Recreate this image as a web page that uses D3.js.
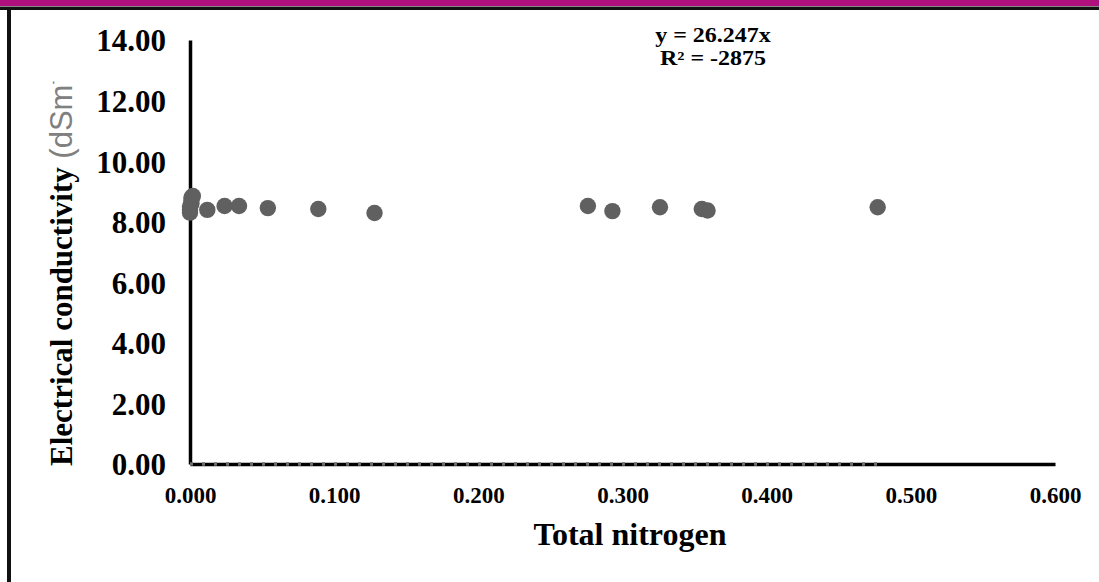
<!DOCTYPE html>
<html>
<head>
<meta charset="utf-8">
<script src="https://cdn.jsdelivr.net/npm/d3@7/dist/d3.min.js"></script>
<style>
  html, body { margin: 0; padding: 0; background: #fff; }
  svg { display: block; }
</style>
</head>
<body>
<svg id="chart" width="1099" height="582"></svg>
<script>
// ---- Data ----
const totalNitrogen = [0.000, 0.000, 0.000, 0.001, 0.001, 0.001, 0.002,
                       0.012, 0.024, 0.034, 0.054, 0.089, 0.128,
                       0.276, 0.293, 0.326, 0.355, 0.359, 0.477];
const conductivity  = [8.30, 8.40, 8.50, 8.60, 8.70, 8.80, 8.85,
                       8.39, 8.52, 8.52, 8.45, 8.42, 8.29,
                       8.52, 8.35, 8.48, 8.42, 8.37, 8.48];
const xTicks = [0, 0.1, 0.2, 0.3, 0.4, 0.5, 0.6];
const yTicks = [0, 2, 4, 6, 8, 10, 12, 14];
const equationLines = ["y = 26.247x", "R\u00B2 = -2875"];
const xTitle = "Total nitrogen";
const yTitleMain = "Electrical conductivity";
const yTitleUnit = " (dSm";
const yTitleSup = "-1";
const yTitleEnd = ")";
const trendEndX = 0.478;

const svg = d3.select("#chart");
const serif = "'Liberation Serif', 'Times New Roman', serif";
const sans = "'Liberation Sans', Arial, sans-serif";

// ---- Frame ----
svg.append("rect").attr("x", 0).attr("y", 0).attr("width", 1099).attr("height", 6).attr("fill", "#b0107e");
svg.append("rect").attr("x", 0).attr("y", 6).attr("width", 1099).attr("height", 1).attr("fill", "#888");
svg.append("rect").attr("x", 0).attr("y", 7).attr("width", 1099).attr("height", 3).attr("fill", "#111");
svg.append("rect").attr("x", 7).attr("y", 9).attr("width", 4).attr("height", 573).attr("fill", "#111");

// ---- Scales ----
const x = d3.scaleLinear().domain([0, 0.6]).range([190, 1055]);
const y = d3.scaleLinear().domain([0, 14]).range([464, 40]);

// ---- Axes ----
const xAxis = d3.axisBottom(x).tickValues(xTicks).tickFormat(d3.format(".3f")).tickSize(0).tickPadding(0);
const gx = svg.append("g").attr("transform", `translate(0,${y(0)})`).call(xAxis);
gx.select(".domain").attr("stroke", "#000").attr("stroke-width", 3.5);
gx.selectAll("text")
  .attr("dy", null).attr("y", 39)
  .attr("font-family", serif).attr("font-weight", "bold").attr("font-size", 23).attr("fill", "#000");

const yAxis = d3.axisLeft(y).tickValues(yTicks).tickFormat(d3.format(".2f")).tickSize(0).tickPadding(0);
const gy = svg.append("g").attr("transform", `translate(${x(0)},0)`).call(yAxis);
gy.select(".domain").attr("stroke", "#000").attr("stroke-width", 3.5);
gy.selectAll("text")
  .attr("x", -24).attr("dy", "0.35em")
  .attr("font-family", serif).attr("font-weight", "bold").attr("font-size", 31).attr("fill", "#000");

// ---- Trend line (dashed, grey, lying on the x axis) ----
svg.append("line")
  .attr("x1", x(0)).attr("x2", x(trendEndX))
  .attr("y1", y(0)).attr("y2", y(0))
  .attr("stroke", "#6e6e6e").attr("stroke-width", 3.5)
  .attr("stroke-dasharray", "3 9");

// ---- Points ----
const pts = totalNitrogen.map((d, i) => ({ x: d, y: conductivity[i] }));
svg.append("g").selectAll("circle").data(pts).join("circle")
  .attr("cx", d => x(d.x)).attr("cy", d => y(d.y)).attr("r", 8.2)
  .attr("fill", "#606060");

// ---- Equation ----
svg.append("g").selectAll("text").data(equationLines).join("text")
  .attr("transform", (d, i) => `translate(713,${42 + i * 23}) scale(1.2,1)`)
  .attr("text-anchor", "middle")
  .attr("font-family", serif).attr("font-weight", "bold").attr("font-size", 20)
  .attr("fill", "#000").text(d => d);

// ---- Axis titles ----
svg.append("text")
  .attr("x", 630).attr("y", 545).attr("text-anchor", "middle")
  .attr("font-family", serif).attr("font-weight", "bold").attr("font-size", 32)
  .attr("fill", "#000").text(xTitle);

const baseY = 466;
const clipRect = svg.append("clipPath").attr("id", "ytclip")
  .append("rect").attr("x", 0).attr("y", 40).attr("width", 180).attr("height", 542);
const yt = svg.append("g").attr("clip-path", "url(#ytclip)")
  .append("text")
  .attr("transform", `translate(72,${baseY}) rotate(-90)`)
  .attr("text-anchor", "start");
yt.append("tspan")
  .attr("font-family", serif).attr("font-weight", "bold").attr("font-size", 31).attr("fill", "#000")
  .text(yTitleMain);
yt.append("tspan")
  .attr("font-family", sans).attr("font-size", 31).attr("fill", "#808080")
  .text(yTitleUnit);
yt.append("tspan")
  .attr("font-family", sans).attr("font-size", 18).attr("fill", "#808080").attr("dy", -13)
  .text(yTitleSup);
yt.append("tspan")
  .attr("font-family", sans).attr("font-size", 31).attr("fill", "#808080").attr("dy", 13)
  .text(yTitleEnd);
// the reference crops the title just after "(dSm", leaving a sliver of the superscript
try {
  const idx = (yTitleMain + yTitleUnit).length;
  const p = yt.node().getStartPositionOfChar(idx);
  clipRect.attr("y", baseY - p.x - 3).attr("height", 582 - (baseY - p.x - 3));
} catch (e) {}
</script>
</body>
</html>
